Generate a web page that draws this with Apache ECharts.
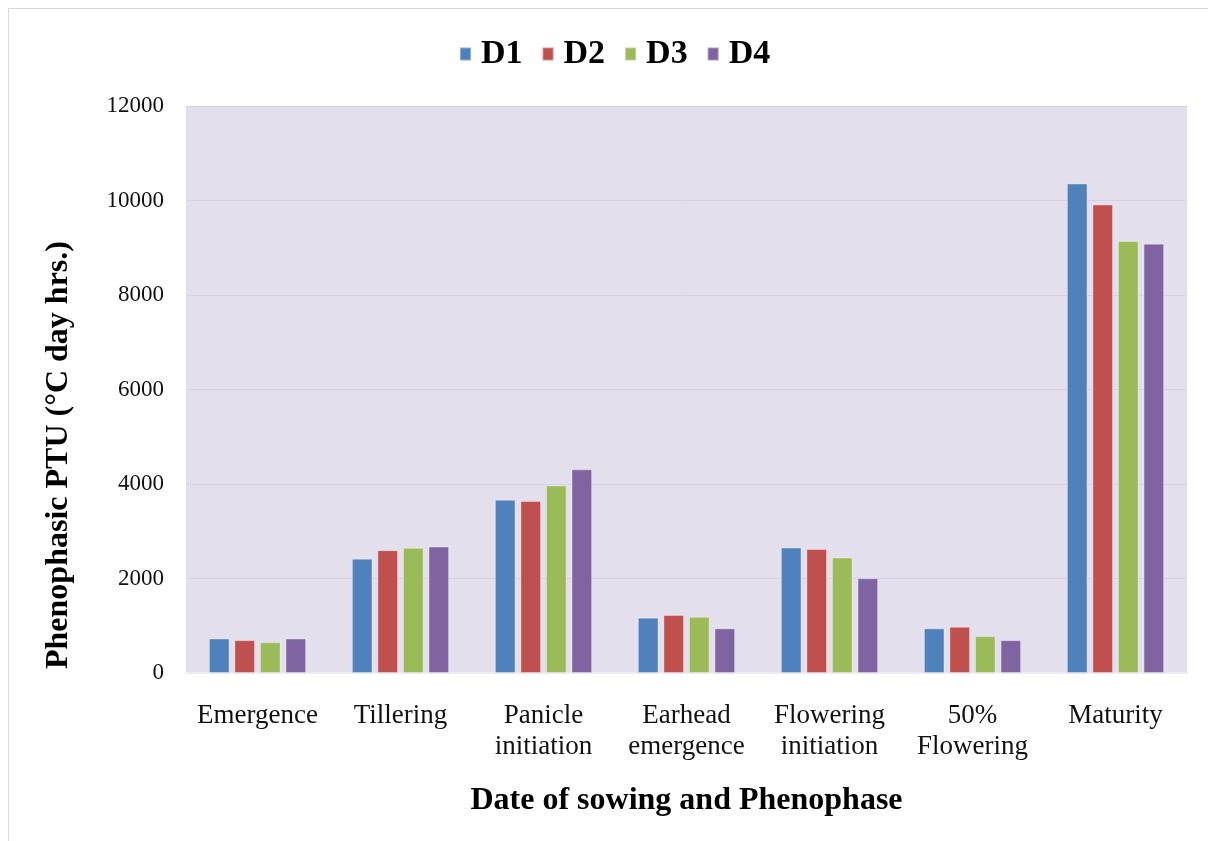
<!DOCTYPE html>
<html>
<head>
<meta charset="utf-8">
<title>Phenophasic PTU</title>
<script src="https://cdn.jsdelivr.net/npm/echarts@6/dist/echarts.min.js"></script>
<style>
  html, body { margin: 0; padding: 0; background: #fff; }
  #frame { position: absolute; left: 8px; top: 8px; width: 1220px; height: 860px; border: 1px solid #d9d9d9; }
  #chart { position: absolute; left: 0; top: 0; width: 1208px; height: 841px; }
</style>
</head>
<body>
<div id="frame"></div>
<div id="chart"></div>
<script>
// categories (phenophases)
const phases = ['Emergence', 'Tillering', 'Panicle\ninitiation', 'Earhead\nemergence',
  'Flowering\ninitiation', '50%\nFlowering', 'Maturity']

// date of sowing series, PTU (°C day hrs.)
const d1 = [730, 2420, 3667, 1170, 2655, 945, 10360]
const d2 = [695, 2600, 3640, 1228, 2626, 978, 9915]
const d3 = [652, 2650, 3970, 1192, 2442, 780, 9145]
const d4 = [730, 2675, 4310, 945, 2005, 695, 9087]

const seriesNames = ['D1', 'D2', 'D3', 'D4']
const seriesColors = ['#4F81BD', '#C0504D', '#9BBB59', '#8064A2']

const yTitle = 'Phenophasic PTU (°C day hrs.)'
const xTitle = 'Date of sowing and Phenophase'

const serif = '"Liberation Serif", "Times New Roman", serif'

const chart = echarts.init(document.getElementById('chart'))

chart.setOption({
  backgroundColor: 'transparent',
  textStyle: { fontFamily: serif },
  legend: {
    top: 32,
    left: 454,
    itemWidth: 11,
    itemHeight: 13,
    itemGap: 19,
    icon: 'rect',
    textStyle: {
      fontFamily: serif,
      fontSize: 34,
      fontWeight: 'bold',
      color: '#000',
      padding: [0, 0, 0, 5]
    },
    data: seriesNames
  },
  grid: {
    left: 186,
    right: 21,
    top: 106,
    bottom: 168,
    show: true,
    backgroundColor: '#E4DFEC',
    borderWidth: 0
  },
  // y axis title sits a bit below the plot's middle in the original
  graphic: [{
    type: 'text',
    x: 59,
    y: 455,
    rotation: Math.PI / 2,
    style: {
      text: yTitle,
      font: 'bold 32px ' + serif,
      fill: '#000',
      align: 'center',
      verticalAlign: 'middle'
    }
  }],
  xAxis: {
    type: 'category',
    data: phases,
    name: xTitle,
    nameLocation: 'middle',
    nameGap: 112,
    nameTextStyle: {
      fontFamily: serif,
      fontSize: 32,
      fontWeight: 'bold',
      color: '#000'
    },
    axisLine: { show: true, lineStyle: { color: '#EDEBF2', width: 2 } },
    axisTick: { show: false },
    axisLabel: {
      interval: 0,
      margin: 27,
      fontFamily: serif,
      fontSize: 27,
      lineHeight: 31,
      color: '#111',
      verticalAlign: 'top'
    }
  },
  yAxis: {
    type: 'value',
    min: 0,
    max: 12000,
    interval: 2000,
    axisLine: { show: false },
    axisTick: { show: false },
    axisLabel: {
      margin: 22,
      fontFamily: serif,
      fontSize: 23,
      color: '#111',
      formatter: v => String(v)
    },
    splitLine: { lineStyle: { color: '#D8D2E0', width: 1 } }
  },
  series: [d1, d2, d3, d4].map((vals, i) => ({
    name: seriesNames[i],
    type: 'bar',
    data: vals,
    barGap: '24%',
    barCategoryGap: '32%',
    itemStyle: {
      color: seriesColors[i],
      borderColor: 'rgba(255,255,255,0.35)',
      borderWidth: 1
    },
    emphasis: { disabled: true }
  }))
})
</script>
</body>
</html>
